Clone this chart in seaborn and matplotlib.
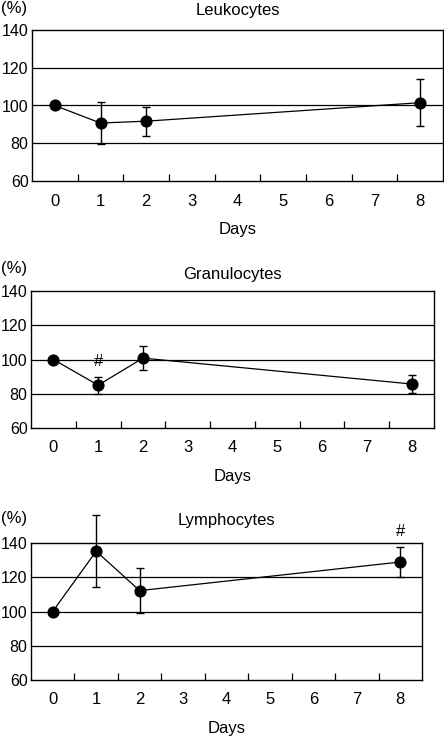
import matplotlib
matplotlib.use("Agg")
import matplotlib.pyplot as plt
from matplotlib.ticker import FixedLocator
import seaborn as sns

W, H = 444, 737

days = [0, 1, 2, 8]
day_labels = ["0", "1", "2", "3", "4", "5", "6", "7", "8"]
y_ticks = [60, 80, 100, 120, 140]

leuko_mean = [100, 90.7, 91.7, 101.5]
leuko_err = [0, 11.2, 7.7, 12.3]

granulo_mean = [100, 85, 100.8, 85.7]
granulo_err = [0, 5, 7, 5]
granulo_marks = [1]

lympho_mean = [100, 135.2, 112.2, 128.9]
lympho_err = [0, 21, 13, 9]
lympho_marks = [8]

sns.set_theme(style="white")
plt.rcParams['font.family'] = ['Liberation Sans', 'DejaVu Sans']
plt.rcParams['font.size'] = 12
plt.rcParams['text.color'] = 'black'
plt.rcParams['axes.labelcolor'] = 'black'
plt.rcParams['xtick.color'] = 'black'
plt.rcParams['ytick.color'] = 'black'

fig = plt.figure(figsize=(W / 100, H / 100), dpi=100)


def rect(left, top, right, bottom):
    return [left / W, 1 - bottom / H, (right - left) / W, (bottom - top) / H]


def panel(box, title, means, errs, marks, title_y, pct_y):
    ax = fig.add_axes(rect(*box))
    for y in [80, 100, 120]:
        ax.axhline(y, color='black', lw=0.9, zorder=1)
    ax.errorbar(days, means, yerr=errs, fmt='none', ecolor='black',
                elinewidth=1.0, capsize=3, capthick=1.0, clip_on=False, zorder=2)
    sns.lineplot(x=days, y=means, ax=ax, color='black', lw=0.9, marker='o',
                 markersize=8, markeredgecolor='black', zorder=3, clip_on=False)
    for d in marks:
        i = days.index(d)
        ax.text(d, means[i] + errs[i] + 9, '#', ha='center', va='center',
                fontsize=12)
    ax.set_xlim(-0.5, 8.5)
    ax.set_ylim(60, 140)
    ax.set_xticks(range(9))
    ax.set_xticklabels(day_labels)
    ax.xaxis.set_minor_locator(FixedLocator([i + 0.5 for i in range(8)]))
    ax.tick_params(axis='x', which='major', length=0, pad=9, labelsize=12)
    ax.tick_params(axis='x', which='minor', bottom=True, direction='in',
                   length=5, width=0.9, color='black')
    ax.set_yticks(y_ticks)
    ax.tick_params(axis='y', length=0, pad=2.5, labelsize=11.5)
    ax.set_xlabel('Days', fontsize=12, labelpad=9.5)
    for s in ax.spines.values():
        s.set_color('black')
        s.set_linewidth(1.0)
    fig.text((box[0] + box[2]) / 2 / W, 1 - title_y / H, title,
             ha='center', va='center', fontsize=12)
    fig.text(0.002, 1 - pct_y / H, '(%)', ha='left', va='center', fontsize=12)
    return ax


panel((32, 30, 443, 181), 'Leukocytes', leuko_mean, leuko_err, [], 11, 9)
panel((31, 291, 434, 428), 'Granulocytes', granulo_mean, granulo_err,
      granulo_marks, 275, 269)
panel((31, 543, 422, 680), 'Lymphocytes', lympho_mean, lympho_err,
      lympho_marks, 520, 518)

fig.savefig('out.png', dpi=100)
